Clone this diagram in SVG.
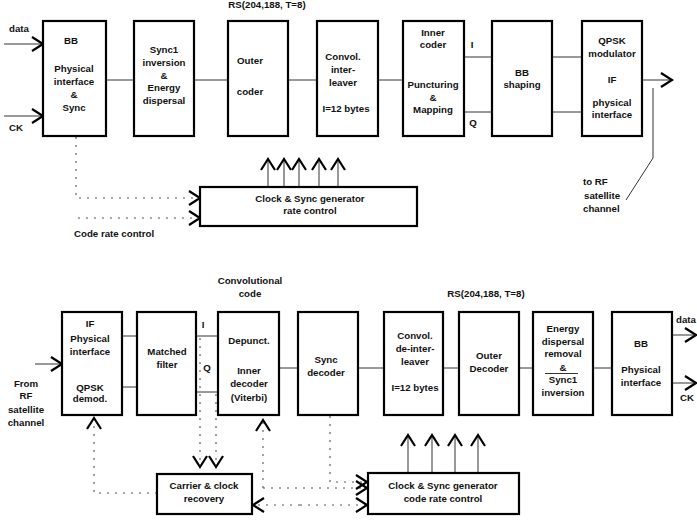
<svg xmlns="http://www.w3.org/2000/svg" width="697" height="522" viewBox="0 0 697 522">
<style>
.box{fill:#fff;stroke:#000;stroke-width:2.2}
.ln{stroke:#333;stroke-width:1;fill:none}
.dot{stroke:#555;stroke-width:1.1;fill:none;stroke-dasharray:2,6}
text{font-family:"Liberation Sans",Arial,sans-serif;font-size:9.7px;font-weight:bold;fill:#111;text-anchor:middle}
.l{text-anchor:start}
</style>
<defs>
<marker id="ah" markerUnits="userSpaceOnUse" markerWidth="16" markerHeight="18" viewBox="-13 -9 16 18" refX="0" refY="0" orient="auto">
<path d="M-11,-7 L0,0 L-11,7" fill="none" stroke="#000" stroke-width="2.2" stroke-dasharray="none"/>
</marker>
</defs>
<rect width="697" height="522" fill="#fff"/>
<g id="connectors">
<line class="ln" x1="4" y1="44" x2="43" y2="44" marker-end="url(#ah)"/>
<line class="ln" x1="4" y1="116" x2="43" y2="116" marker-end="url(#ah)"/>
<line class="ln" x1="106" y1="80" x2="134" y2="80"/>
<line class="ln" x1="194" y1="80" x2="228" y2="80"/>
<line class="ln" x1="288" y1="80" x2="317" y2="80"/>
<line class="ln" x1="378" y1="80" x2="406" y2="80"/>
<line class="ln" x1="464" y1="57" x2="492" y2="57"/>
<line class="ln" x1="464" y1="112" x2="492" y2="112"/>
<line class="ln" x1="547" y1="57" x2="582" y2="57"/>
<line class="ln" x1="552" y1="112" x2="582" y2="112"/>
<line class="ln" x1="642" y1="80" x2="672" y2="80" marker-end="url(#ah)"/>
<polyline class="ln" points="653,88 653,158 626,200"/>
<line class="ln" x1="268" y1="187" x2="268" y2="159" marker-end="url(#ah)"/>
<line class="ln" x1="284" y1="187" x2="284" y2="159" marker-end="url(#ah)"/>
<line class="ln" x1="299" y1="187" x2="299" y2="159" marker-end="url(#ah)"/>
<line class="ln" x1="319" y1="187" x2="319" y2="159" marker-end="url(#ah)"/>
<line class="ln" x1="338" y1="187" x2="338" y2="159" marker-end="url(#ah)"/>
<polyline class="dot" points="76,137 76,198 200,198" marker-end="url(#ah)"/>
<line class="dot" x1="78" y1="218" x2="200" y2="218" marker-end="url(#ah)"/>
<line class="ln" x1="35" y1="364" x2="62" y2="364" marker-end="url(#ah)"/>
<line class="ln" x1="122" y1="336" x2="137" y2="336"/>
<line class="ln" x1="122" y1="387" x2="137" y2="387"/>
<line class="ln" x1="196" y1="336" x2="218" y2="336"/>
<line class="ln" x1="196" y1="392" x2="218" y2="392"/>
<line class="ln" x1="279" y1="368" x2="298" y2="368"/>
<line class="ln" x1="358" y1="368" x2="384" y2="368"/>
<line class="ln" x1="443" y1="368" x2="459" y2="368"/>
<line class="ln" x1="519" y1="368" x2="533" y2="368"/>
<line class="ln" x1="593" y1="368" x2="612" y2="368"/>
<line class="ln" x1="672" y1="335" x2="696" y2="335" marker-end="url(#ah)"/>
<line class="ln" x1="672" y1="383" x2="696" y2="383" marker-end="url(#ah)"/>
<line class="dot" x1="200" y1="338" x2="200" y2="467" marker-end="url(#ah)"/>
<line class="dot" x1="216" y1="394" x2="216" y2="467" marker-end="url(#ah)"/>
<polyline class="dot" points="157,493 94,493 94,418" marker-end="url(#ah)"/>
<polyline class="dot" points="263,488 263,420" marker-end="url(#ah)"/>
<polyline class="dot" points="263,488 367,488" marker-end="url(#ah)"/>
<polyline class="dot" points="330,416 330,482 367,482" marker-end="url(#ah)"/>
<line class="dot" x1="300" y1="505" x2="253" y2="505" marker-end="url(#ah)"/>
<line class="dot" x1="300" y1="505" x2="367" y2="505" marker-end="url(#ah)"/>
<line class="ln" x1="408" y1="473" x2="408" y2="435" marker-end="url(#ah)"/>
<line class="ln" x1="432" y1="473" x2="432" y2="435" marker-end="url(#ah)"/>
<line class="ln" x1="455" y1="473" x2="455" y2="435" marker-end="url(#ah)"/>
<line class="ln" x1="478" y1="473" x2="478" y2="435" marker-end="url(#ah)"/>
</g>
<g id="labels">
<text x="267" y="8">RS(204,188, T=8)</text>
<text class="l" x="9" y="31.5">data</text>
<text class="l" x="9" y="130.5">CK</text>
<text x="472" y="47.5">I</text>
<text x="473" y="125.5">Q</text>
<text class="l" x="74" y="236.5">Code rate control</text>
<text class="l" x="583" y="185">to RF</text>
<text class="l" x="584" y="198.5">satellite</text>
<text class="l" x="583" y="211.5">channel</text>
<text x="250" y="283.5">Convolutional</text>
<text x="250" y="296.5">code</text>
<text x="486" y="296.5">RS(204,188, T=8)</text>
<text x="203" y="327.5">I</text>
<text x="207" y="370.5">Q</text>
<text x="26" y="386.5">From</text>
<text x="26" y="398.5">RF</text>
<text x="26" y="412.5">satellite</text>
<text x="26" y="425.5">channel</text>
<text class="l" x="676" y="322.5">data</text>
<text class="l" x="680" y="401">CK</text>
</g>
<g id="bb-phys-tx"><rect class="box" x="43" y="21" width="63" height="115"/>
<text x="71" y="44">BB</text><text x="74" y="71.5">Physical</text><text x="74" y="84.5">interface</text><text x="74" y="97.5">&amp;</text><text x="74" y="110.5">Sync</text></g>
<g id="sync1-inv"><rect class="box" x="134" y="21" width="60" height="115"/>
<text x="164" y="52.5">Sync1</text><text x="164" y="65.5">inversion</text><text x="164" y="78.5">&amp;</text><text x="164" y="90.5">Energy</text><text x="164" y="103.5">dispersal</text></g>
<g id="outer-coder"><rect class="box" x="228" y="21" width="60" height="115"/>
<text x="250" y="63.5">Outer</text><text x="250" y="94.5">coder</text></g>
<g id="convol-interleaver"><rect class="box" x="317" y="21" width="61" height="115"/>
<text x="343" y="59.5">Convol.</text><text x="343" y="72.5">inter-</text><text x="343" y="85.5">leaver</text><text x="346" y="111.5">I=12 bytes</text></g>
<g id="inner-coder"><rect class="box" x="403" y="21" width="61" height="115"/>
<text x="433" y="35.5">Inner</text><text x="433" y="47.5">coder</text><text x="433" y="87.5">Puncturing</text><text x="433" y="100.5">&amp;</text><text x="433" y="112.5">Mapping</text></g>
<g id="bb-shaping"><rect class="box" x="492" y="21" width="60" height="115"/>
<text x="522" y="75.5">BB</text><text x="522" y="87.5">shaping</text></g>
<g id="qpsk-mod"><rect class="box" x="582" y="21" width="60" height="115"/>
<text x="612" y="43.5">QPSK</text><text x="612" y="56.5">modulator</text><text x="612" y="82.5">IF</text><text x="612" y="105.5">physical</text><text x="612" y="117.5">interface</text></g>
<g id="clock-tx"><rect class="box" x="200" y="187" width="217" height="39"/>
<text x="310" y="201.5">Clock &amp; Sync generator</text><text x="310" y="213.5">rate control</text></g>
<g id="if-phys-rx"><rect class="box" x="62" y="312" width="60" height="103"/>
<text x="90" y="326.5">IF</text><text x="90" y="341.5">Physical</text><text x="90" y="354.5">interface</text><text x="90" y="390.5">QPSK</text><text x="90" y="401.5">demod.</text></g>
<g id="matched-filter"><rect class="box" x="137" y="312" width="59" height="103"/>
<text x="167" y="354.5">Matched</text><text x="167" y="367.5">filter</text></g>
<g id="depunct"><rect class="box" x="218" y="312" width="61" height="103"/>
<text x="249" y="343.5">Depunct.</text><text x="249" y="373.5">Inner</text><text x="249" y="386.5">decoder</text><text x="249" y="400.5">(Viterbi)</text></g>
<g id="sync-decoder"><rect class="box" x="298" y="312" width="60" height="103"/>
<text x="326" y="362.5">Sync</text><text x="326" y="375.5">decoder</text></g>
<g id="convol-deinterleaver"><rect class="box" x="384" y="312" width="59" height="103"/>
<text x="415" y="338.5">Convol.</text><text x="415" y="351.5">de-inter-</text><text x="415" y="364.5">leaver</text><text x="415" y="390.5">I=12 bytes</text></g>
<g id="outer-decoder"><rect class="box" x="459" y="312" width="60" height="103"/>
<text x="489" y="358.5">Outer</text><text x="489" y="371.5">Decoder</text></g>
<g id="energy-removal"><rect class="box" x="533" y="312" width="60" height="103"/>
<text x="563" y="331.5">Energy</text><text x="563" y="344.5">dispersal</text><text x="563" y="356.5">removal</text><text x="563" y="370.5">&amp;</text>
<line x1="545" y1="373.5" x2="578" y2="373.5" stroke="#333" stroke-width="1"/>
<text x="563" y="382.5">Sync1</text><text x="563" y="395.5">inversion</text></g>
<g id="bb-phys-rx"><rect class="box" x="612" y="312" width="60" height="103"/>
<text x="641" y="346.5">BB</text><text x="641" y="372.5">Physical</text><text x="641" y="385.5">interface</text></g>
<g id="carrier-recovery"><rect class="box" x="157" y="474" width="95" height="40"/>
<text x="204" y="488.5">Carrier &amp; clock</text><text x="204" y="501.5">recovery</text></g>
<g id="clock-rx"><rect class="box" x="368" y="473" width="151" height="41"/>
<text x="443" y="488.5">Clock &amp; Sync generator</text><text x="443" y="501.5">code rate control</text></g>
</svg>
